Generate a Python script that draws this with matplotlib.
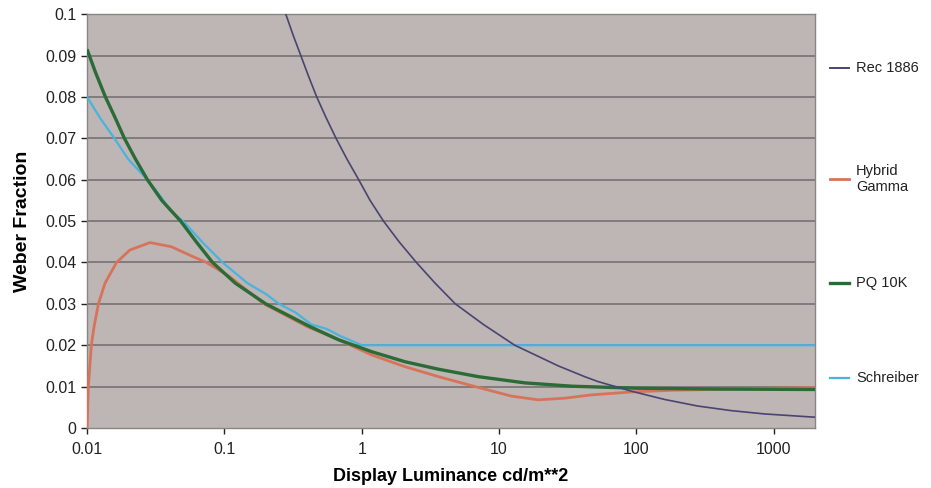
import matplotlib
matplotlib.use("Agg")
import matplotlib.pyplot as plt
from matplotlib.lines import Line2D

plt.rcParams['font.family'] = ['Liberation Sans', 'DejaVu Sans']

# Values (x = luminance cd/m^2, y = Weber fraction)
rec1886_x = [0.27, 0.28, 0.316, 0.36, 0.41, 0.47, 0.55, 0.65, 0.78, 0.95, 1.15, 1.44, 1.87, 2.5, 3.42,
             4.8, 7.7, 13, 27, 42, 52.7, 91.7, 160, 280, 489, 851, 2000]
rec1886_y = [0.1015, 0.100, 0.095, 0.090, 0.085, 0.080, 0.075, 0.070, 0.065, 0.060, 0.055, 0.050, 0.045, 0.040, 0.035,
             0.030, 0.025, 0.020, 0.015, 0.0124, 0.0112, 0.0089, 0.0069, 0.0053, 0.0042, 0.0034, 0.0026]

hybrid_x = [0.01, 0.01022, 0.01075, 0.01125, 0.0121, 0.01352, 0.0164, 0.0205, 0.0287, 0.0411, 0.0591,
            0.074, 0.109, 0.194, 0.4, 0.68, 1.19, 2.07, 3.62, 7.06, 12.3, 19.3, 30.1, 47, 91.7, 179, 2000]
hybrid_y = [0.0, 0.010, 0.020, 0.0245, 0.030, 0.035, 0.040, 0.043, 0.0448, 0.0438, 0.0414,
            0.040, 0.0366, 0.030, 0.0245, 0.0213, 0.0176, 0.0148, 0.0124, 0.0098, 0.0077, 0.0068, 0.0072, 0.0080, 0.0087, 0.0091, 0.0098]

pq_x = [0.01, 0.0115, 0.0136, 0.016, 0.0187, 0.0225, 0.0275, 0.035, 0.048, 0.063, 0.082, 0.12, 0.2, 0.3,
        0.42, 0.68, 1.19, 2.07, 3.62, 7.06, 15.4, 33.7, 102, 400, 2000]
pq_y = [0.0915, 0.086, 0.080, 0.075, 0.070, 0.065, 0.060, 0.055, 0.050, 0.0448, 0.040, 0.035, 0.030, 0.027,
        0.0245, 0.0213, 0.0184, 0.0160, 0.0142, 0.0124, 0.0109, 0.0101, 0.0096, 0.0094, 0.0093]

schreiber_x = [0.01, 0.0125, 0.0158, 0.02, 0.0275, 0.035, 0.04, 0.05, 0.07, 0.097, 0.147, 0.2, 0.25,
               0.33, 0.43, 0.55, 0.7, 0.8, 1.0, 2000]
schreiber_y = [0.080, 0.0748, 0.070, 0.0649, 0.060, 0.0556, 0.0526, 0.050, 0.0447, 0.040, 0.035, 0.0324, 0.030,
               0.0279, 0.025, 0.0240, 0.0222, 0.0214, 0.020, 0.020]

series = [
    ("Rec 1886", rec1886_x, rec1886_y, "#4a4470", 1.2),
    ("Hybrid\nGamma", hybrid_x, hybrid_y, "#d8735a", 2.0),
    ("PQ 10K", pq_x, pq_y, "#2b6b37", 2.4),
    ("Schreiber", schreiber_x, schreiber_y, "#48b4de", 1.6),
]

fig = plt.figure(figsize=(9.31, 4.88), dpi=100)
ax = fig.add_axes([0.0935, 0.123, 0.782, 0.848])
ax.set_facecolor("#bdb6b4")

for y in [i / 100 for i in range(1, 10)]:
    ax.axhline(y, color="#777171", lw=1.2, zorder=1)

# draw order so that green sits over blue/orange as in the reference
order = [3, 1, 2, 0]
for i in order:
    label, xs, ys, col, lw = series[i]
    ax.plot(xs, ys, color=col, lw=lw, zorder=3, solid_capstyle="butt", solid_joinstyle="round")

ax.set_xscale("log")
ax.set_xlim(0.01, 2000)
ax.set_ylim(0, 0.1)
ax.set_xticks([0.01, 0.1, 1, 10, 100, 1000])
ax.set_xticklabels(["0.01", "0.1", "1", "10", "100", "1000"])
ax.xaxis.set_minor_locator(matplotlib.ticker.NullLocator())
ax.set_yticks([i / 100 for i in range(0, 11)])
ax.set_yticklabels(["0"] + ["%.2f" % (i / 100) for i in range(1, 10)] + ["0.1"])
ax.tick_params(axis="both", labelsize=11.5, colors="#222222", length=4, width=1, direction="out")
ax.tick_params(axis="x", pad=6)
for s in ax.spines.values():
    s.set_color("#8a8585")
    s.set_linewidth(1)

ax.set_xlabel("Display Luminance cd/m**2", fontsize=13, fontweight="bold", labelpad=8)
ax.set_ylabel("Weber Fraction", fontsize=14, fontweight="bold", labelpad=10)

# legend at right, entries placed like the original
legend_y = [68, 179, 283, 378]
for (label, xs, ys, col, lw), py in zip(series, legend_y):
    yf = 1 - py / 488
    fig.add_artist(Line2D([830 / 931, 849 / 931], [yf, yf], color=col, lw=max(lw, 1.4)))
    fig.text(856 / 931, yf, label, fontsize=10.5, va="center", ha="left", color="#222222",
             linespacing=1.25)

fig.savefig("out.png", dpi=100)
